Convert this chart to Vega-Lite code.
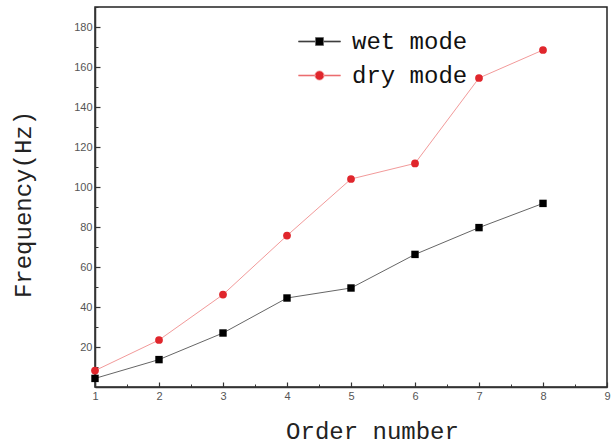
{
  "$schema": "https://vega.github.io/schema/vega-lite/v6.json",
  "width": 512,
  "height": 380,
  "autosize": {"type": "none"},
  "padding": {"left": 95, "top": 7, "right": 8, "bottom": 61},
  "background": "white",
  "config": {
    "view": {"stroke": "#222", "strokeWidth": 1.5},
    "axis": {
      "grid": false,
      "domainColor": "#333",
      "domainWidth": 1.5,
      "tickColor": "#333",
      "labelColor": "#555",
      "labelFont": "Liberation Sans",
      "labelFontSize": 11,
      "titleFont": "Liberation Mono",
      "titleFontSize": 24,
      "titleFontWeight": "normal",
      "titleColor": "#222"
    }
  },
  "data": {
    "values": [
      {"order": 1, "freq": 4.3, "series": "wet mode"},
      {"order": 2, "freq": 13.7, "series": "wet mode"},
      {"order": 3, "freq": 27, "series": "wet mode"},
      {"order": 4, "freq": 44.5, "series": "wet mode"},
      {"order": 5, "freq": 49.5, "series": "wet mode"},
      {"order": 6, "freq": 66.3, "series": "wet mode"},
      {"order": 7, "freq": 79.7, "series": "wet mode"},
      {"order": 8, "freq": 91.8, "series": "wet mode"},
      {"order": 1, "freq": 8.2, "series": "dry mode"},
      {"order": 2, "freq": 23.5, "series": "dry mode"},
      {"order": 3, "freq": 46.2, "series": "dry mode"},
      {"order": 4, "freq": 75.7, "series": "dry mode"},
      {"order": 5, "freq": 104, "series": "dry mode"},
      {"order": 6, "freq": 111.8, "series": "dry mode"},
      {"order": 7, "freq": 154.5, "series": "dry mode"},
      {"order": 8, "freq": 168.5, "series": "dry mode"}
    ]
  },
  "layer": [
    {
      "mark": {"type": "line", "strokeWidth": 1},
      "encoding": {
        "x": {
          "field": "order", "type": "quantitative",
          "scale": {"domain": [1, 9], "nice": false},
          "axis": {"title": "Order number", "orient": "bottom", "values": [1,2,3,4,5,6,7,8,9], "tickSize": -5, "tickWidth": 1.2, "labelPadding": 8, "titlePadding": 18, "labelFlush": false, "titleX": 277}
        },
        "y": {
          "field": "freq", "type": "quantitative",
          "scale": {"domain": [0, 190], "nice": false, "zero": false},
          "axis": {"title": "Frequency(Hz)", "orient": "left", "values": [20,40,60,80,100,120,140,160,180], "tickSize": -5, "tickWidth": 1.2, "labelPadding": 8, "titlePadding": 38, "titleY": 197}
        },
        "stroke": {
          "field": "series", "type": "nominal",
          "scale": {"domain": ["dry mode", "wet mode"], "range": ["#f29a9a", "#666666"]},
          "legend": null
        },
        "detail": {"field": "series"}
      }
    },
    {
      "transform": [{"filter": "datum.series === 'wet mode'"}],
      "mark": {"type": "point", "filled": true, "opacity": 1, "shape": "square", "size": 55, "strokeWidth": 0},
      "encoding": {
        "x": {
          "field": "order", "type": "quantitative",
          "axis": {"title": null, "orient": "bottom", "values": [1.5,2.5,3.5,4.5,5.5,6.5,7.5,8.5], "labels": false, "domain": false, "tickSize": -3}
        },
        "y": {
          "field": "freq", "type": "quantitative",
          "axis": {"title": null, "orient": "left", "values": [10,30,50,70,90,110,130,150,170,190], "labels": false, "domain": false, "tickSize": -3}
        },
        "fill": {
          "field": "series", "type": "nominal",
          "scale": {"domain": ["wet mode", "dry mode"], "range": ["#000000", "#e0262c"]},
          "legend": {
            "title": null,
            "orient": "none",
            "legendX": 203,
            "legendY": 13,
            "padding": 0,
            "labelFont": "Liberation Mono",
            "labelFontSize": 24,
            "labelColor": "#111",
            "symbolSize": 1764,
            "rowPadding": -3,
            "labelOffset": 11,
            "symbolType": {"expr": "datum.value === 'wet mode' ? 'M-1,-0.025H-0.2V0.025H-1Z M0.2,-0.025H1V0.025H0.2Z M-0.19,-0.19H0.19V0.19H-0.19Z' : 'M-1,-0.025H-0.2V0.025H-1Z M0.2,-0.025H1V0.025H0.2Z M0.22,0A0.22,0.22 0 1,1 -0.22,0A0.22,0.22 0 1,1 0.22,0Z'"},
            "symbolStrokeColor": {"expr": "datum.value === 'wet mode' ? '#666666' : '#f29a9a'"},
            "symbolStrokeWidth": 0.8
          }
        }
      }
    },
    {
      "transform": [{"filter": "datum.series === 'dry mode'"}],
      "mark": {"type": "point", "filled": true, "opacity": 1, "shape": "circle", "size": 60, "strokeWidth": 0},
      "encoding": {
        "x": {"field": "order", "type": "quantitative", "axis": null},
        "y": {"field": "freq", "type": "quantitative", "axis": null},
        "fill": {"field": "series", "type": "nominal"}
      }
    }
  ],
  "resolve": {"axis": {"x": "independent", "y": "independent"}}
}
